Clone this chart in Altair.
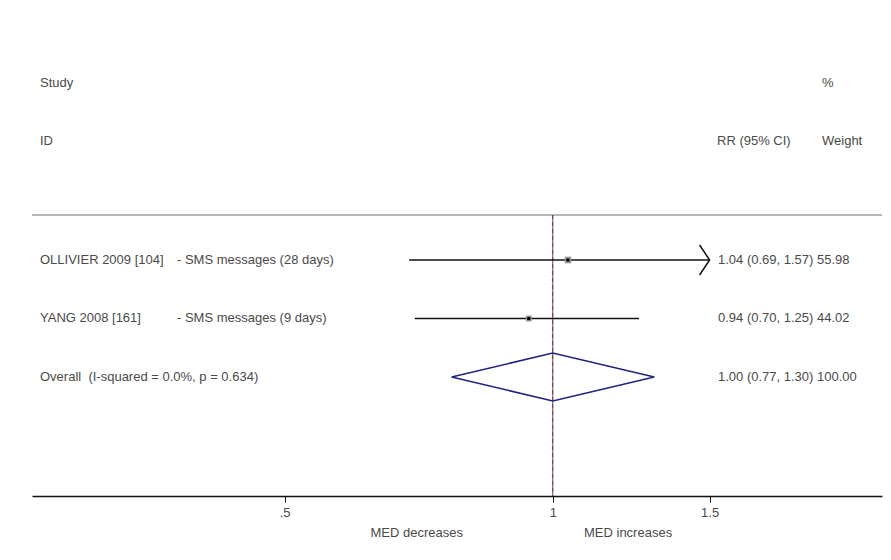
import altair as alt
import pandas as pd

# ---- data ----
authors = ["OLLIVIER 2009", "YANG 2008"]
refs = ["[104]", "[161]"]
descs = ["- SMS messages (28 days)", "- SMS messages (9 days)"]
rr = [1.04, 0.94]
lo = [0.69, 0.70]
hi = [1.57, 1.25]
weights = [55.98, 44.02]

overall_rr = 1.00
overall_lo = 0.77
overall_hi = 1.30
overall_label = "Overall\u00a0 (I-squared = 0.0%, p = 0.634)"

tick_values = [0.5, 1, 1.5]
clip_max = 1.5  # CIs beyond the last tick are drawn with an arrow

# ---- tables ----
studies = pd.DataFrame({
    "k": [1, 2],
    "author": authors,
    "ref": refs,
    "desc": descs,
    "rr": rr,
    "lo": lo,
    "hi": hi,
    "w": weights,
})
studies["full"] = studies["author"] + " " + studies["ref"]
studies["hi_c"] = studies["hi"].clip(upper=clip_max)
studies["txt"] = [f"{a:.2f} ({b:.2f}, {c:.2f}) {d:.2f}" for a, b, c, d in zip(rr, lo, hi, weights)]

overall = pd.DataFrame({
    "k": [3], "rr": [overall_rr], "lo": [overall_lo], "hi": [overall_hi],
    "label": [overall_label],
    "txt": [f"{overall_rr:.2f} ({overall_lo:.2f}, {overall_hi:.2f}) 100.00"],
})

h = 0.41  # diamond half height in row units
diamond = pd.DataFrame({
    "x": [overall_lo, overall_rr, overall_hi, overall_rr, overall_lo],
    "k": [3, 3 - h, 3, 3 + h, 3],
    "o": [0, 1, 2, 3, 4],
})

arrows = studies[studies["hi"] > clip_max].copy()
arrows["xa"] = clip_max

# ---- scales ----
XS = alt.Scale(type="log", domain=[0.2603, 2.342], range=[24, 874])
YS = alt.Scale(domain=[-3.3077, 5.0342], range=[0, 488])
FONT = "Liberation Sans"
TC = "#4a4a4a"
FS = 13

AX = alt.Axis(values=tick_values, format=".1~f",
              labelExpr="datum.value == 0.5 ? '.5' : datum.label",
              title=None, grid=False, domainColor="#111", domainWidth=1.5,
              tickColor="#111", tickSize=6, tickWidth=1, labelFontSize=FS,
              labelColor=TC, labelPadding=4, labelFont=FONT)

def X(f):
    return alt.X(f, type="quantitative", scale=XS, axis=AX)

Y = alt.Y("k:Q", scale=YS, axis=None)

base_s = alt.Chart(studies)
base_o = alt.Chart(overall)

header_rule = alt.Chart(overall).mark_rule(color="#a0a0a0", strokeWidth=1.5).encode(
    x=alt.value(24), x2=alt.value(874), y=alt.value(207))

null_line = base_o.mark_rule(color="#555555", strokeWidth=1).encode(
    x=alt.X("one:Q", scale=XS, axis=AX), y=alt.value(207), y2=alt.value(488)
).transform_calculate(one="1")

overall_line = base_o.mark_rule(color="#a03030", strokeWidth=1, strokeDash=[4, 3]).encode(
    x=X("rr"), y=alt.value(207), y2=alt.value(488))

ci = base_s.mark_rule(color="#111111", strokeWidth=1.5).encode(
    x=X("lo"), x2="hi_c", y=Y)

arrow = alt.Chart(arrows).mark_point(
    shape="M -0.67 -1 L 0 0 L -0.67 1", size=900, filled=False,
    color="#111111", strokeWidth=1.5, opacity=1).encode(x=X("xa"), y=Y)

boxes = base_s.mark_square(color="#9a9a9a", opacity=1).encode(
    x=X("rr"), y=Y, size=alt.Size("w:Q", scale=alt.Scale(domain=[0, 100], range=[0, 80]), legend=None))

dots = base_s.mark_circle(color="#000000", size=14, opacity=1).encode(x=X("rr"), y=Y)

dia = alt.Chart(diamond).mark_line(color="#1f2380", strokeWidth=1.5).encode(
    x=X("x"), y=Y, order="o:Q")

txt_kw = dict(font=FONT, fontSize=FS, color=TC, baseline="middle", align="left")

name_txt = base_s.mark_text(**txt_kw).encode(x=alt.value(32), y=Y, text="full:N")
desc_txt = base_s.mark_text(**txt_kw).encode(x=alt.value(169), y=Y, text="desc:N")
ci_txt = base_s.mark_text(**txt_kw).encode(x=alt.value(710), y=Y, text="txt:N")
ov_label = base_o.mark_text(**txt_kw).encode(x=alt.value(32), y=Y, text="label:N")
ov_txt = base_o.mark_text(**txt_kw).encode(x=alt.value(710), y=Y, text="txt:N")


def header(t, x, y, align="left"):
    return alt.Chart(pd.DataFrame({"t": [t]})).mark_text(
        **{**txt_kw, "align": align}).encode(x=alt.value(x), y=alt.value(y), text="t:N")

headers = [
    header("Study", 32, 75),
    header("ID", 32, 133),
    header("RR (95% CI)", 709, 133),
    header("Weight", 814, 133),
    header("%", 814, 75),
    header("MED decreases", 455, 525, "right"),
    header("MED increases", 576, 525, "left"),
]

chart = alt.layer(
    header_rule, null_line, overall_line, ci, arrow, boxes, dots, dia,
    name_txt, desc_txt, ci_txt, ov_label, ov_txt, *headers
).properties(
    width=875, height=488,
    autosize=alt.AutoSizeParams(type="none"),
    padding={"left": 0, "top": 0, "right": 0, "bottom": 46},
).configure(
    background="white",
    view=alt.ViewConfig(stroke="transparent", strokeWidth=0),
)

chart.save("out.html", embed_options={"renderer": "svg", "actions": False})
